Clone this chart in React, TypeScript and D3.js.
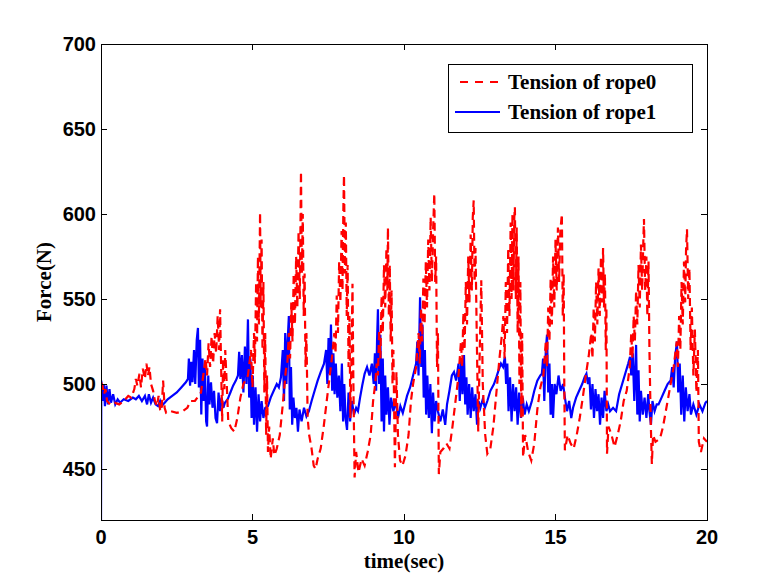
import React from 'react';
import * as d3 from 'd3';

const xTicks = [0, 5, 10, 15, 20];
const yTicks = [450, 500, 550, 600, 650, 700];
const legendLabels = ['Tension of rope0', 'Tension of rope1'];

// [time (s), force (N)]
const rope0: [number, number][] = [
  [0, 501], [0.05, 499], [0.1, 494], [0.15, 497], [0.2, 490], [0.3, 488], [0.45, 489], [0.6, 488], [0.75, 490], [0.9, 493],
  [1.0, 492], [1.1, 497], [1.15, 503], [1.2, 499], [1.27, 506], [1.32, 498], [1.38, 509], [1.45, 503], [1.5, 512], [1.55, 505],
  [1.6, 510], [1.65, 500], [1.72, 496], [1.78, 490], [1.85, 487], [1.9, 493], [1.95, 485], [2.0, 484], [2.05, 502], [2.1, 486],
  [2.15, 483], [2.3, 484], [2.5, 483], [2.7, 484], [2.85, 486], [2.95, 490], [3.1, 490], [3.3, 495],
  [3.45, 515], [3.5, 505], [3.55, 524], [3.6, 510], [3.65, 528], [3.7, 512], [3.75, 530], [3.8, 518], [3.85, 540], [3.9, 520],
  [3.93, 544], [3.97, 505], [4.0, 478], [4.03, 515], [4.07, 497], [4.1, 520], [4.15, 500], [4.2, 478], [4.3, 474], [4.4, 472],
  [4.5, 480], [4.6, 492], [4.7, 500], [4.85, 505], [4.95, 520], [5.0, 498], [5.05, 530], [5.08, 512], [5.12, 560], [5.15, 525],
  [5.18, 575], [5.21, 535], [5.25, 601], [5.27, 545], [5.3, 585], [5.33, 520], [5.36, 560], [5.39, 495], [5.42, 530], [5.45, 470],
  [5.48, 505], [5.51, 460], [5.55, 475], [5.6, 456], [5.67, 468], [5.72, 458], [5.8, 462], [5.9, 470], [6.0, 488], [6.1, 508],
  [6.15, 512], [6.2, 530], [6.24, 515], [6.28, 548], [6.32, 525], [6.36, 565], [6.4, 535], [6.44, 575], [6.48, 545], [6.52, 590],
  [6.56, 550], [6.6, 625], [6.63, 565], [6.66, 600], [6.69, 540], [6.72, 565], [6.75, 510], [6.78, 530], [6.82, 480], [6.87, 470],
  [6.95, 462], [7.02, 452], [7.08, 450], [7.15, 456], [7.25, 462], [7.35, 475], [7.45, 490], [7.55, 505], [7.62, 515],
  [7.7, 530], [7.74, 518], [7.78, 552], [7.82, 530], [7.86, 572], [7.9, 548], [7.94, 590], [7.97, 555], [8.0, 605], [8.02, 623],
  [8.05, 565], [8.08, 595], [8.11, 540], [8.14, 570], [8.17, 510], [8.2, 540], [8.23, 480], [8.27, 520], [8.3, 559], [8.33, 500],
  [8.37, 445], [8.42, 460], [8.5, 448], [8.6, 456], [8.7, 452], [8.8, 460], [8.9, 470], [8.98, 490], [9.05, 500],
  [9.1, 512], [9.14, 505], [9.18, 532], [9.22, 515], [9.26, 552], [9.3, 530], [9.34, 570], [9.38, 545], [9.42, 580], [9.45, 555],
  [9.47, 592], [9.5, 540], [9.53, 570], [9.56, 525], [9.59, 555], [9.62, 500], [9.65, 520], [9.7, 451], [9.75, 507], [9.8, 470],
  [9.87, 455], [9.95, 452], [10.05, 458], [10.15, 470], [10.23, 490], [10.3, 500],
  [10.4, 510], [10.48, 530], [10.52, 512], [10.56, 545], [10.6, 525], [10.64, 562], [10.68, 535], [10.72, 572], [10.76, 545], [10.8, 585],
  [10.84, 555], [10.88, 598], [10.92, 560], [10.96, 590], [11.0, 612], [11.03, 560], [11.06, 575], [11.09, 510], [11.12, 530], [11.15, 447],
  [11.2, 460], [11.3, 462], [11.4, 465], [11.5, 462], [11.6, 475], [11.7, 490],
  [11.8, 505], [11.88, 525], [11.92, 510], [11.96, 542], [12.0, 520], [12.04, 560], [12.08, 535], [12.12, 575], [12.16, 548], [12.2, 588],
  [12.24, 555], [12.27, 598], [12.3, 608], [12.33, 560], [12.36, 580], [12.4, 530], [12.45, 472], [12.5, 520], [12.55, 561], [12.6, 500],
  [12.68, 470], [12.75, 459], [12.85, 462], [12.95, 475], [13.05, 495], [13.15, 515], [13.22, 527],
  [13.28, 540], [13.32, 515], [13.36, 560], [13.4, 530], [13.44, 580], [13.48, 540], [13.52, 595], [13.55, 550], [13.58, 600], [13.61, 555],
  [13.64, 598], [13.66, 604], [13.69, 550], [13.72, 592], [13.75, 530], [13.78, 575], [13.81, 500], [13.84, 560], [13.87, 480], [13.9, 530],
  [13.93, 457], [14.0, 470], [14.1, 460], [14.2, 455], [14.3, 465], [14.4, 485], [14.5, 498],
  [14.6, 505], [14.68, 525], [14.72, 510], [14.76, 545], [14.8, 525], [14.84, 562], [14.88, 535], [14.92, 575], [14.96, 545], [15.0, 585],
  [15.04, 555], [15.08, 592], [15.12, 560], [15.16, 590], [15.21, 600], [15.24, 540], [15.27, 565], [15.29, 500], [15.31, 461], [15.4, 470],
  [15.5, 465], [15.6, 462], [15.7, 470], [15.8, 480], [15.9, 492], [16.0, 505], [16.1, 517],
  [16.18, 530], [16.22, 515], [16.26, 545], [16.3, 525], [16.34, 560], [16.38, 535], [16.42, 568], [16.46, 540], [16.5, 575], [16.54, 548],
  [16.57, 580], [16.6, 545], [16.63, 565], [16.66, 520], [16.68, 545], [16.7, 459], [16.75, 475], [16.85, 470], [16.95, 463], [17.05, 470],
  [17.15, 478], [17.25, 490], [17.35, 496],
  [17.45, 510], [17.5, 530], [17.54, 515], [17.58, 540], [17.62, 525], [17.66, 555], [17.7, 535], [17.74, 570], [17.78, 545], [17.82, 582],
  [17.86, 555], [17.9, 585], [17.92, 597], [17.96, 555], [18.0, 575], [18.03, 540], [18.07, 572], [18.1, 520], [18.14, 480], [18.18, 453],
  [18.22, 470], [18.3, 466], [18.45, 468], [18.55, 475], [18.7, 490], [18.8, 500], [18.9, 510],
  [19.0, 525], [19.04, 510], [19.08, 540], [19.12, 520], [19.16, 560], [19.2, 535], [19.24, 572], [19.28, 548], [19.31, 580], [19.34, 591],
  [19.38, 550], [19.42, 568], [19.46, 520], [19.5, 545], [19.55, 505], [19.6, 532], [19.65, 495], [19.7, 520], [19.73, 466], [19.8, 460],
  [19.9, 468], [20, 466],
];

const rope1: [number, number][] = [
  [0, 420],
  [0.01, 502], [0.05, 490], [0.09, 500], [0.13, 487], [0.18, 499], [0.23, 488], [0.28, 497], [0.33, 489], [0.4, 494], [0.47, 488],
  [0.55, 491], [0.63, 489], [0.75, 491], [0.9, 490], [1.05, 492], [1.15, 491], [1.25, 493], [1.35, 490], [1.45, 493], [1.52, 488],
  [1.58, 494], [1.65, 489], [1.72, 492], [1.8, 488], [1.88, 487], [1.95, 490], [2.0, 487], [2.1, 489], [2.2, 491], [2.35, 493],
  [2.5, 495], [2.65, 498], [2.8, 501], [2.87, 503],
  [2.9, 515], [2.94, 499], [2.98, 513], [3.02, 501], [3.07, 520], [3.11, 500], [3.16, 526], [3.2, 533], [3.23, 498], [3.27, 526],
  [3.31, 482], [3.35, 515], [3.39, 490], [3.43, 510], [3.47, 478], [3.5, 475], [3.54, 505], [3.58, 488], [3.63, 501], [3.68, 486],
  [3.73, 496], [3.78, 480], [3.83, 477], [3.88, 495], [3.93, 484], [3.98, 492], [4.04, 486], [4.09, 489], [4.18, 491], [4.27, 495],
  [4.36, 499], [4.45, 502], [4.52, 505], [4.56, 519], [4.6, 503], [4.65, 517], [4.7, 495], [4.75, 522], [4.8, 500], [4.85, 538],
  [4.89, 492], [4.93, 515], [4.97, 480], [5.01, 505], [5.05, 476], [5.1, 498], [5.15, 472], [5.2, 494], [5.25, 478], [5.3, 490],
  [5.36, 480], [5.42, 486], [5.51, 487], [5.6, 492], [5.7, 496], [5.8, 500], [5.87, 498], [5.94, 504],
  [6.0, 520], [6.04, 490], [6.08, 530], [6.12, 500], [6.16, 525], [6.2, 540], [6.23, 485], [6.27, 510], [6.31, 476], [6.35, 492],
  [6.4, 480], [6.45, 486], [6.5, 472], [6.55, 485], [6.62, 478], [6.7, 486], [6.78, 481], [6.86, 484], [6.95, 490], [7.05, 496],
  [7.15, 502], [7.25, 507], [7.36, 512],
  [7.43, 520], [7.47, 500], [7.51, 527], [7.55, 506], [7.59, 535], [7.63, 496], [7.67, 518], [7.71, 494], [7.75, 512], [7.8, 492],
  [7.85, 505], [7.9, 484], [7.95, 512], [7.99, 478], [8.03, 500], [8.07, 480], [8.12, 473], [8.17, 495], [8.22, 478], [8.28, 490],
  [8.35, 482], [8.42, 486], [8.48, 484], [8.55, 492], [8.62, 499], [8.7, 506], [8.78, 510], [8.86, 505], [8.94, 512], [9.0, 500],
  [9.04, 518], [9.08, 496], [9.11, 525], [9.14, 544], [9.18, 500], [9.22, 529], [9.26, 478], [9.3, 515], [9.34, 472], [9.38, 505],
  [9.42, 482], [9.47, 498], [9.52, 476], [9.57, 492], [9.65, 484], [9.73, 490], [9.8, 480], [9.88, 487], [9.96, 483], [10.03, 488],
  [10.1, 493], [10.2, 498], [10.3, 505], [10.4, 512],
  [10.44, 525], [10.48, 505], [10.53, 551], [10.57, 510], [10.61, 535], [10.65, 492], [10.69, 520], [10.73, 482], [10.77, 505], [10.82, 480],
  [10.87, 500], [10.92, 471], [10.96, 495], [11.01, 478], [11.06, 490], [11.12, 484], [11.2, 478], [11.28, 485], [11.36, 476], [11.42, 488],
  [11.5, 496], [11.58, 505], [11.65, 507], [11.72, 502],
  [11.8, 512], [11.84, 490], [11.89, 515], [11.93, 494], [11.98, 517], [12.02, 488], [12.06, 504], [12.1, 482], [12.15, 500], [12.2, 480],
  [12.25, 498], [12.3, 484], [12.36, 494], [12.41, 476], [12.46, 490], [12.52, 486], [12.6, 491], [12.67, 486], [12.75, 490], [12.85, 496],
  [12.97, 500], [13.05, 504], [13.12, 508], [13.2, 512], [13.27, 510], [13.33, 516],
  [13.37, 500], [13.41, 512], [13.45, 484], [13.5, 504], [13.55, 478], [13.6, 500], [13.65, 484], [13.7, 498], [13.75, 476], [13.8, 495],
  [13.86, 480], [13.92, 492], [13.98, 482], [14.05, 488], [14.12, 484], [14.22, 490], [14.3, 496], [14.4, 502], [14.5, 505], [14.55, 506],
  [14.59, 515], [14.63, 490], [14.68, 520], [14.72, 529], [14.76, 495], [14.8, 512], [14.84, 482], [14.88, 500], [14.92, 480], [14.97, 500],
  [15.03, 494], [15.1, 505], [15.17, 496], [15.25, 500], [15.31, 492], [15.38, 484], [15.45, 490], [15.52, 480], [15.58, 486], [15.68, 492],
  [15.78, 496], [15.88, 500], [15.96, 504], [16.02, 506],
  [16.07, 500], [16.12, 504], [16.17, 485], [16.22, 500], [16.27, 480], [16.32, 497], [16.37, 484], [16.42, 494], [16.47, 476], [16.52, 492],
  [16.57, 480], [16.62, 496], [16.68, 484], [16.74, 488], [16.8, 484], [16.9, 486], [17.0, 484], [17.1, 494], [17.2, 500], [17.3, 506],
  [17.4, 512], [17.46, 516],
  [17.5, 505], [17.55, 518], [17.6, 490], [17.66, 523], [17.7, 482], [17.74, 508], [17.78, 478], [17.82, 496], [17.88, 482], [17.94, 492],
  [18.0, 480], [18.06, 494], [18.1, 484], [18.15, 476], [18.2, 490], [18.27, 484], [18.34, 488], [18.4, 488], [18.5, 492], [18.6, 496],
  [18.7, 500], [18.8, 502],
  [18.85, 510], [18.9, 498], [18.95, 516], [19.01, 525], [19.05, 495], [19.1, 512], [19.15, 482], [19.2, 505], [19.25, 478], [19.3, 498],
  [19.36, 484], [19.42, 494], [19.47, 482], [19.55, 488], [19.65, 482], [19.75, 488], [19.85, 484], [19.95, 489], [20, 490],
];

export default function App() {
  const W = 779;
  const H = 584;
  const L = 101, R = 707, T = 44, B = 520;
  const x = d3.scaleLinear().domain([0, 20]).range([L, R]);
  const y = d3.scaleLinear().domain([420, 700]).range([B, T]);
  const line = d3.line<[number, number]>().x(d => x(d[0])).y(d => y(d[1]));
  const tickLen = 6;
  const sans = '"Liberation Sans", Arial, Helvetica, sans-serif';
  const serif = '"Liberation Serif", "Times New Roman", Times, serif';

  return (
    <svg width={W} height={H} style={{ position: 'absolute', left: 0, top: 0, background: '#fff' }}>
      <rect x={0} y={0} width={W} height={H} fill="#fff" />
      <defs>
        <clipPath id="plotclip">
          <rect x={L} y={T} width={R - L} height={B - T} />
        </clipPath>
      </defs>
      <g clipPath="url(#plotclip)">
        <path d={line(rope1) || ''} fill="none" stroke="#0000ff" strokeWidth={2.2} strokeLinejoin="miter" />
        <path d={line(rope0) || ''} fill="none" stroke="#ff0000" strokeWidth={2.2} strokeDasharray="8,5" />
      </g>
      <rect x={L} y={T} width={R - L} height={B - T} fill="none" stroke="#000" strokeWidth={1} shapeRendering="crispEdges" />
      {xTicks.map(t => (
        <g key={'xt' + t}>
          <line x1={x(t)} x2={x(t)} y1={B} y2={B - tickLen} stroke="#000" shapeRendering="crispEdges" />
          <line x1={x(t)} x2={x(t)} y1={T} y2={T + tickLen} stroke="#000" shapeRendering="crispEdges" />
          <text x={x(t)} y={544} textAnchor="middle" fontFamily={sans} fontWeight="bold" fontSize={20}>{t}</text>
        </g>
      ))}
      {yTicks.map(v => (
        <g key={'yt' + v}>
          <line x1={L} x2={L + tickLen} y1={y(v)} y2={y(v)} stroke="#000" shapeRendering="crispEdges" />
          <line x1={R} x2={R - tickLen} y1={y(v)} y2={y(v)} stroke="#000" shapeRendering="crispEdges" />
          <text x={96} y={y(v) + 7} textAnchor="end" fontFamily={sans} fontWeight="bold" fontSize={20}>{v}</text>
        </g>
      ))}
      <text x={(L + R) / 2} y={568} textAnchor="middle" fontFamily={serif} fontWeight="bold" fontSize={21}>time(sec)</text>
      <text transform={`translate(51,${(T + B) / 2}) rotate(-90)`} textAnchor="middle" fontFamily={serif} fontWeight="bold" fontSize={21}>Force(N)</text>
      <rect x={448} y={64} width={244} height={68} fill="#fff" stroke="#000" strokeWidth={1} shapeRendering="crispEdges" />
      <line x1={460} x2={498} y1={82} y2={82} stroke="#ff0000" strokeWidth={2} strokeDasharray="8,7" />
      <line x1={455} x2={500} y1={112} y2={112} stroke="#0000ff" strokeWidth={2} />
      <text x={508} y={89} fontFamily={serif} fontWeight="bold" fontSize={21}>{legendLabels[0]}</text>
      <text x={508} y={119} fontFamily={serif} fontWeight="bold" fontSize={21}>{legendLabels[1]}</text>
    </svg>
  );
}
